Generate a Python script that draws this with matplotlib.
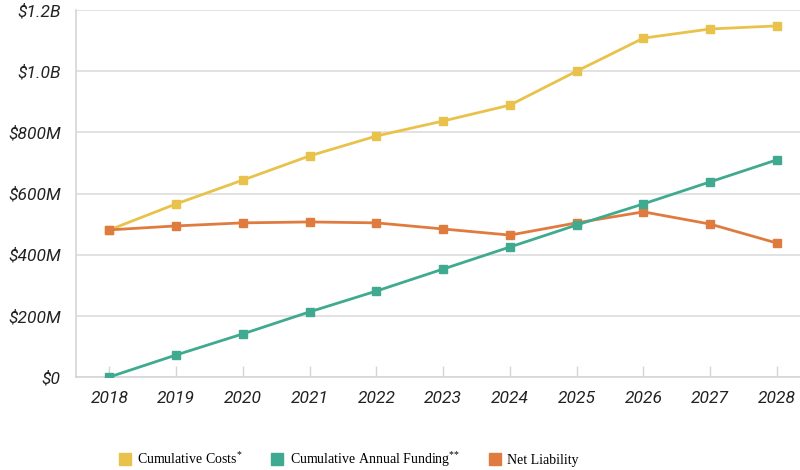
import matplotlib
matplotlib.use("Agg")
import matplotlib.pyplot as plt
from matplotlib.lines import Line2D

years = ["2018", "2019", "2020", "2021", "2022", "2023", "2024", "2025", "2026", "2027", "2028"]
cumulative_costs = [481, 566, 644, 723, 788, 837, 889, 1000, 1108, 1138, 1148]
cumulative_funding = [0, 72, 141, 213, 281, 353, 425, 497, 566, 638, 710]
net_liability = [481, 494, 504, 507, 504, 484, 464, 504, 540, 500, 438]
y_ticks = [0, 200, 400, 600, 800, 1000, 1200]
y_tick_labels = ["$0", "$200M", "$400M", "$600M", "$800M", "$1.0B", "$1.2B"]
series_names = ["Cumulative Costs$^{*}$", "Cumulative Annual Funding$^{{*}{*}}$", "Net Liability"]

c_yellow = "#E8C24A"
c_teal = "#3FAA90"
c_orange = "#E07B40"

plt.rcParams["mathtext.fontset"] = "custom"
plt.rcParams["mathtext.rm"] = "Liberation Serif"

fig = plt.figure(figsize=(8, 4.7), dpi=100)
ax = fig.add_axes([76/800, 93/470, 1 - 76/800, 367/470])

x = list(range(len(years)))
lw = 2.0
ms = 6
ax.plot(x, cumulative_costs, color=c_yellow, lw=lw, marker="s", ms=ms, zorder=3)
ax.plot(x, net_liability, color=c_orange, lw=lw, marker="s", ms=ms, zorder=4)
ax.plot(x, cumulative_funding, color=c_teal, lw=lw, marker="s", ms=ms, zorder=5)

ax.set_xlim(-0.5, 10.346)
ax.set_ylim(0, 1200)
ax.set_yticks(y_ticks)
ax.set_yticklabels(y_tick_labels)
ax.set_xticks(x)
ax.set_xticklabels(years)

for lab in ax.get_yticklabels() + ax.get_xticklabels():
    lab.set_fontfamily("Roboto")
    lab.set_fontstyle("italic")
    lab.set_fontsize(12.5)
    lab.set_color("#222222")

ax.grid(axis="y", color="#DDDDDD", lw=1.2, zorder=0)
ax.set_axisbelow(True)
for s in ["top", "right"]:
    ax.spines[s].set_visible(False)
for s in ["left", "bottom"]:
    ax.spines[s].set_color("#D5D5D5")
    ax.spines[s].set_linewidth(1.2)
ax.tick_params(axis="y", length=0, pad=11)
ax.tick_params(axis="x", direction="in", length=8, color="#D5D5D5", width=1, pad=10)

handles = [Line2D([], [], ls="none", marker="s", ms=8.5, color=c) for c in (c_yellow, c_teal, c_orange)]
fig.legend(handles, series_names, loc="center left", bbox_to_anchor=(118/800, 11/470), ncol=3,
           frameon=False, prop=dict(family="Liberation Serif", size=10),
           handletextpad=0.38, columnspacing=2.0, handlelength=1.0,
           borderpad=0, borderaxespad=0)

fig.savefig("out.png", dpi=100)
